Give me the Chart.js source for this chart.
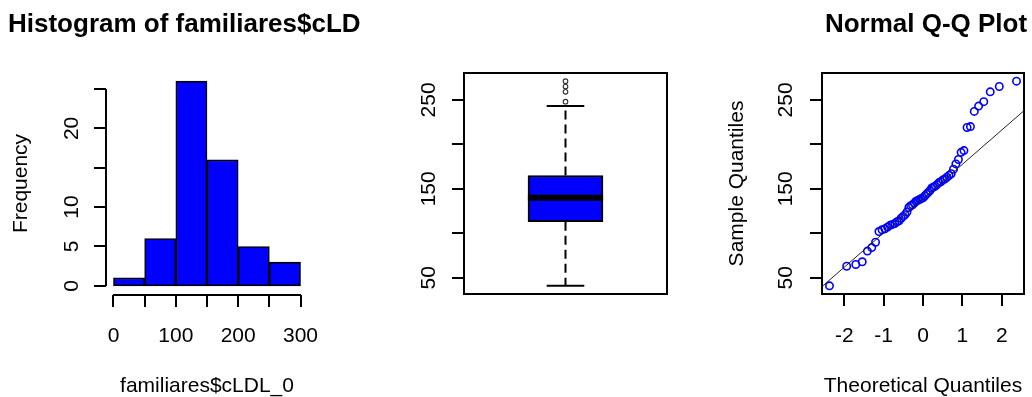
<!DOCTYPE html>
<html>
<head>
<meta charset="utf-8">
<script src="https://cdn.jsdelivr.net/npm/chart.js@4.4.1/dist/chart.umd.min.js"></script>
<style>
  html, body { margin: 0; padding: 0; background: #fff; }
  #wrap { position: relative; width: 1032px; height: 397px; overflow: hidden; }
  #wrap canvas { position: absolute; left: 0; top: 0; }
</style>
</head>
<body>
<div id="wrap">
  <canvas id="hist" width="1032" height="397"></canvas>
  <canvas id="box" width="1032" height="397"></canvas>
  <canvas id="qq" width="1032" height="397"></canvas>
</div>
<script>
// LDL cholesterol of relatives (familiares$cLDL_0), sorted ascending
const cldl = [
  41, 63, 65, 68, 80, 84, 90,
  102, 104, 105, 107, 109, 110, 111, 113, 114, 117, 119, 121, 124, 129, 131, 132, 134, 136, 137, 138, 139, 140, 142, 144, 146, 148,
  151, 152, 153, 155, 157, 158, 160, 161, 163, 165, 167, 172, 178, 183, 191, 193,
  219, 220, 237, 243, 248,
  259, 265, 271
];

// histogram classes and frequencies
const histBreaks = [0, 50, 100, 150, 200, 250, 300];
const histCounts = [1, 6, 26, 16, 5, 3];

// axis ticks and the labels printed next to them ('' = tick without label)
const histXTicks  = [0, 50, 100, 150, 200, 250, 300];
const histXLabels = ['0', '', '100', '', '200', '', '300'];
const histYTicks  = [0, 5, 10, 15, 20, 25];
const histYLabels = ['0', '5', '10', '', '20', ''];
const ldlTicks    = [50, 100, 150, 200, 250];
const ldlLabels   = ['50', '', '150', '', '250'];
const qqXTicks    = [-2, -1, 0, 1, 2];
const qqXLabels   = ['-2', '-1', '0', '1', '2'];

const FONT = '"Liberation Sans", Arial, Helvetica, sans-serif';
const BLUE = '#0000FF';

// ---------- statistics helpers ----------
function qnorm(p) {
  const a = [-3.969683028665376e+01, 2.209460984245205e+02, -2.759285104469687e+02, 1.383577518672690e+02, -3.066479806614716e+01, 2.506628277459239e+00];
  const b = [-5.447609879822406e+01, 1.615858368580409e+02, -1.556989798598866e+02, 6.680131188771972e+01, -1.328068155288572e+01];
  const c = [-7.784894002430293e-03, -3.223964580411365e-01, -2.400758277161838e+00, -2.549732539343734e+00, 4.374664141464968e+00, 2.938163982698783e+00];
  const d = [7.784695709041462e-03, 3.224671290700398e-01, 2.445134137142996e+00, 3.754408661907416e+00];
  const pl = 0.02425;
  let q, r;
  if (p < pl) {
    q = Math.sqrt(-2 * Math.log(p));
    return (((((c[0]*q+c[1])*q+c[2])*q+c[3])*q+c[4])*q+c[5]) / ((((d[0]*q+d[1])*q+d[2])*q+d[3])*q+1);
  }
  if (p > 1 - pl) {
    q = Math.sqrt(-2 * Math.log(1 - p));
    return -(((((c[0]*q+c[1])*q+c[2])*q+c[3])*q+c[4])*q+c[5]) / ((((d[0]*q+d[1])*q+d[2])*q+d[3])*q+1);
  }
  q = p - 0.5; r = q * q;
  return (((((a[0]*r+a[1])*r+a[2])*r+a[3])*r+a[4])*r+a[5])*q / (((((b[0]*r+b[1])*r+b[2])*r+b[3])*r+b[4])*r+1);
}
function quantile7(xs, p) {
  const h = (xs.length - 1) * p, lo = Math.floor(h);
  return lo + 1 < xs.length ? xs[lo] + (h - lo) * (xs[lo + 1] - xs[lo]) : xs[lo];
}
function fivenum(xs) {
  const n = xs.length, n4 = Math.floor((n + 3) / 2) / 2;
  return [1, n4, (n + 1) / 2, n + 1 - n4, n].map(v => 0.5 * (xs[Math.floor(v) - 1] + xs[Math.ceil(v) - 1]));
}
function extend(lo, hi) { const e = (hi - lo) * 0.04; return [lo - e, hi + e]; }

// ---------- R-style axes, frame and titles ----------
function rAxes(o) {
  return {
    id: 'rAxes',
    afterDatasetsDraw(chart) {
      const ctx = chart.ctx, xs = chart.scales.x, ys = chart.scales.y, a = chart.chartArea;
      ctx.save();
      ctx.strokeStyle = '#000'; ctx.fillStyle = '#000'; ctx.lineWidth = 2;
      if (o.frame) ctx.strokeRect(a.left, a.top, a.right - a.left, a.bottom - a.top);
      const yLine = a.left, xLine = o.xLineY != null ? o.xLineY : a.bottom;
      ctx.beginPath();
      if (o.yTicks) {
        const py = o.yTicks.map(v => Math.round(ys.getPixelForValue(v)));
        if (!o.frame) { ctx.moveTo(yLine, py[0]); ctx.lineTo(yLine, py[py.length - 1]); }
        py.forEach(p => { ctx.moveTo(yLine, p); ctx.lineTo(yLine - 12, p); });
      }
      if (o.xTicks) {
        const px = o.xTicks.map(v => Math.round(xs.getPixelForValue(v)));
        if (!o.frame) { ctx.moveTo(px[0], xLine); ctx.lineTo(px[px.length - 1], xLine); }
        px.forEach(p => { ctx.moveTo(p, xLine); ctx.lineTo(p, xLine + 12); });
      }
      ctx.stroke();

      ctx.font = '21px ' + FONT;
      ctx.textBaseline = 'alphabetic';
      if (o.yTicks) {
        o.yTicks.forEach((v, i) => {
          if (!o.yLabels[i]) return;
          ctx.save();
          ctx.translate(o.yLabelX, ys.getPixelForValue(v));
          ctx.rotate(-Math.PI / 2);
          ctx.textAlign = 'center';
          ctx.fillText(o.yLabels[i], 0, 0);
          ctx.restore();
        });
      }
      if (o.xTicks) {
        ctx.textAlign = 'center';
        o.xTicks.forEach((v, i) => {
          if (!o.xLabels[i]) return;
          ctx.fillText(o.xLabels[i], xs.getPixelForValue(v), 341.5);
        });
      }
      const cx = (a.left + a.right) / 2, cy = (a.top + a.bottom) / 2;
      if (o.xTitle) { ctx.textAlign = 'center'; ctx.fillText(o.xTitle, cx, 391.5); }
      if (o.yTitle) {
        ctx.save(); ctx.translate(o.yTitleX, cy); ctx.rotate(-Math.PI / 2);
        ctx.textAlign = 'center'; ctx.fillText(o.yTitle, 0, 0); ctx.restore();
      }
      if (o.title) {
        ctx.font = 'bold 26px ' + FONT;
        ctx.textAlign = o.titleAlign || 'center';
        ctx.fillText(o.title, o.titleX != null ? o.titleX : cx, 32);
      }
      ctx.restore();
    }
  };
}

function baseOptions(padding, xr, yr) {
  return {
    responsive: false,
    animation: false,
    events: [],
    layout: { padding },
    plugins: { legend: { display: false }, tooltip: { enabled: false } },
    scales: {
      x: { type: 'linear', display: false, offset: false, min: xr[0], max: xr[1] },
      y: { type: 'linear', display: false, offset: false, min: yr[0], max: yr[1] }
    }
  };
}

// ---------- histogram ----------
const histX = extend(histBreaks[0], histBreaks[histBreaks.length - 1]);
const histY = extend(0, Math.max(...histCounts));
new Chart(document.getElementById('hist'), {
  type: 'bar',
  data: {
    datasets: [{
      data: histCounts.map((c, i) => ({ x: (histBreaks[i] + histBreaks[i + 1]) / 2, y: c })),
      backgroundColor: BLUE,
      borderColor: '#000',
      borderWidth: 1.6,
      borderSkipped: false,
      barPercentage: 1,
      categoryPercentage: 1
    }]
  },
  options: baseOptions({ left: 106, right: 1032 - 308, top: 73, bottom: 397 - 294 }, histX, histY),
  plugins: [rAxes({
    yTicks: histYTicks, yLabels: histYLabels, yLabelX: 78,
    xTicks: histXTicks, xLabels: histXLabels, xLineY: 295,
    xTitle: 'familiares$cLDL_0', yTitle: 'Frequency', yTitleX: 27,
    title: 'Histogram of familiares$cLD', titleX: 8, titleAlign: 'left'
  })]
});

// ---------- boxplot ----------
const [fMin, h1, med, h3, fMax] = fivenum(cldl);
const iqr = h3 - h1;
const inside = cldl.filter(v => v >= h1 - 1.5 * iqr && v <= h3 + 1.5 * iqr);
const wLo = Math.min(...inside), wHi = Math.max(...inside);
const outliers = cldl.filter(v => v < wLo || v > wHi);
const ldlRange = extend(cldl[0], cldl[cldl.length - 1]);
const boxHalf = 0.2, capHalf = 0.1;
const seg = (x0, y0, x1, y1) => [{ x: x0, y: y0 }, { x: x1, y: y1 }];
const lineDs = (data, extra) => Object.assign({
  type: 'line', data, borderColor: '#000', borderWidth: 2, pointRadius: 0, fill: false, borderCapStyle: 'butt'
}, extra || {});

new Chart(document.getElementById('box'), {
  type: 'bar',
  data: {
    datasets: [
      lineDs(seg(1 - boxHalf, med, 1 + boxHalf, med), { borderWidth: 6 }),
      lineDs(seg(1 - capHalf, wHi, 1 + capHalf, wHi)),
      lineDs(seg(1 - capHalf, wLo, 1 + capHalf, wLo)),
      lineDs(seg(1, h3, 1, wHi), { borderDash: [9, 5] }),
      lineDs(seg(1, h1, 1, wLo), { borderDash: [9, 5] }),
      {
        type: 'scatter',
        data: outliers.map(v => ({ x: 1, y: v })),
        pointRadius: 2.3, pointBorderWidth: 1.1, pointBorderColor: '#333',
        pointBackgroundColor: 'rgba(0,0,0,0)'
      },
      {
        type: 'bar',
        data: [{ x: 1, y: [h1, h3] }],
        backgroundColor: BLUE, borderColor: '#000', borderWidth: 2,
        borderSkipped: false, barThickness: 75
      }
    ]
  },
  options: baseOptions({ left: 464, right: 1032 - 667, top: 73, bottom: 397 - 294 }, extend(0.5, 1.5), ldlRange),
  plugins: [rAxes({ frame: true, yTicks: ldlTicks, yLabels: ldlLabels, yLabelX: 435 })]
});

// ---------- normal Q-Q plot ----------
const n = cldl.length;
// standard normal quantiles at plotting positions (i - 0.5) / n, as qqnorm uses
const theo = cldl.map((_, i) => qnorm((i + 0.5) / n));
const q1 = quantile7(cldl, 0.25), q3 = quantile7(cldl, 0.75);
const slope = (q3 - q1) / (qnorm(0.75) - qnorm(0.25));
const icept = q1 - slope * qnorm(0.25);
const qqX = extend(theo[0], theo[n - 1]);

new Chart(document.getElementById('qq'), {
  type: 'scatter',
  data: {
    datasets: [
      {
        type: 'line',
        data: [{ x: qqX[0], y: icept + slope * qqX[0] }, { x: qqX[1], y: icept + slope * qqX[1] }],
        borderColor: '#222', borderWidth: 1, pointRadius: 0, fill: false
      },
      {
        data: cldl.map((v, i) => ({ x: theo[i], y: v })),
        pointRadius: 3.7, pointBorderWidth: 1.6, pointBorderColor: BLUE,
        pointBackgroundColor: 'rgba(0,0,0,0)'
      }
    ]
  },
  options: baseOptions({ left: 822, right: 1032 - 1024, top: 73, bottom: 397 - 294 }, qqX, ldlRange),
  plugins: [rAxes({
    frame: true,
    yTicks: ldlTicks, yLabels: ldlLabels, yLabelX: 791.5,
    xTicks: qqXTicks, xLabels: qqXLabels,
    xTitle: 'Theoretical Quantiles', yTitle: 'Sample Quantiles', yTitleX: 743,
    title: 'Normal Q-Q Plot', titleX: 926
  })]
});
</script>
</body>
</html>
